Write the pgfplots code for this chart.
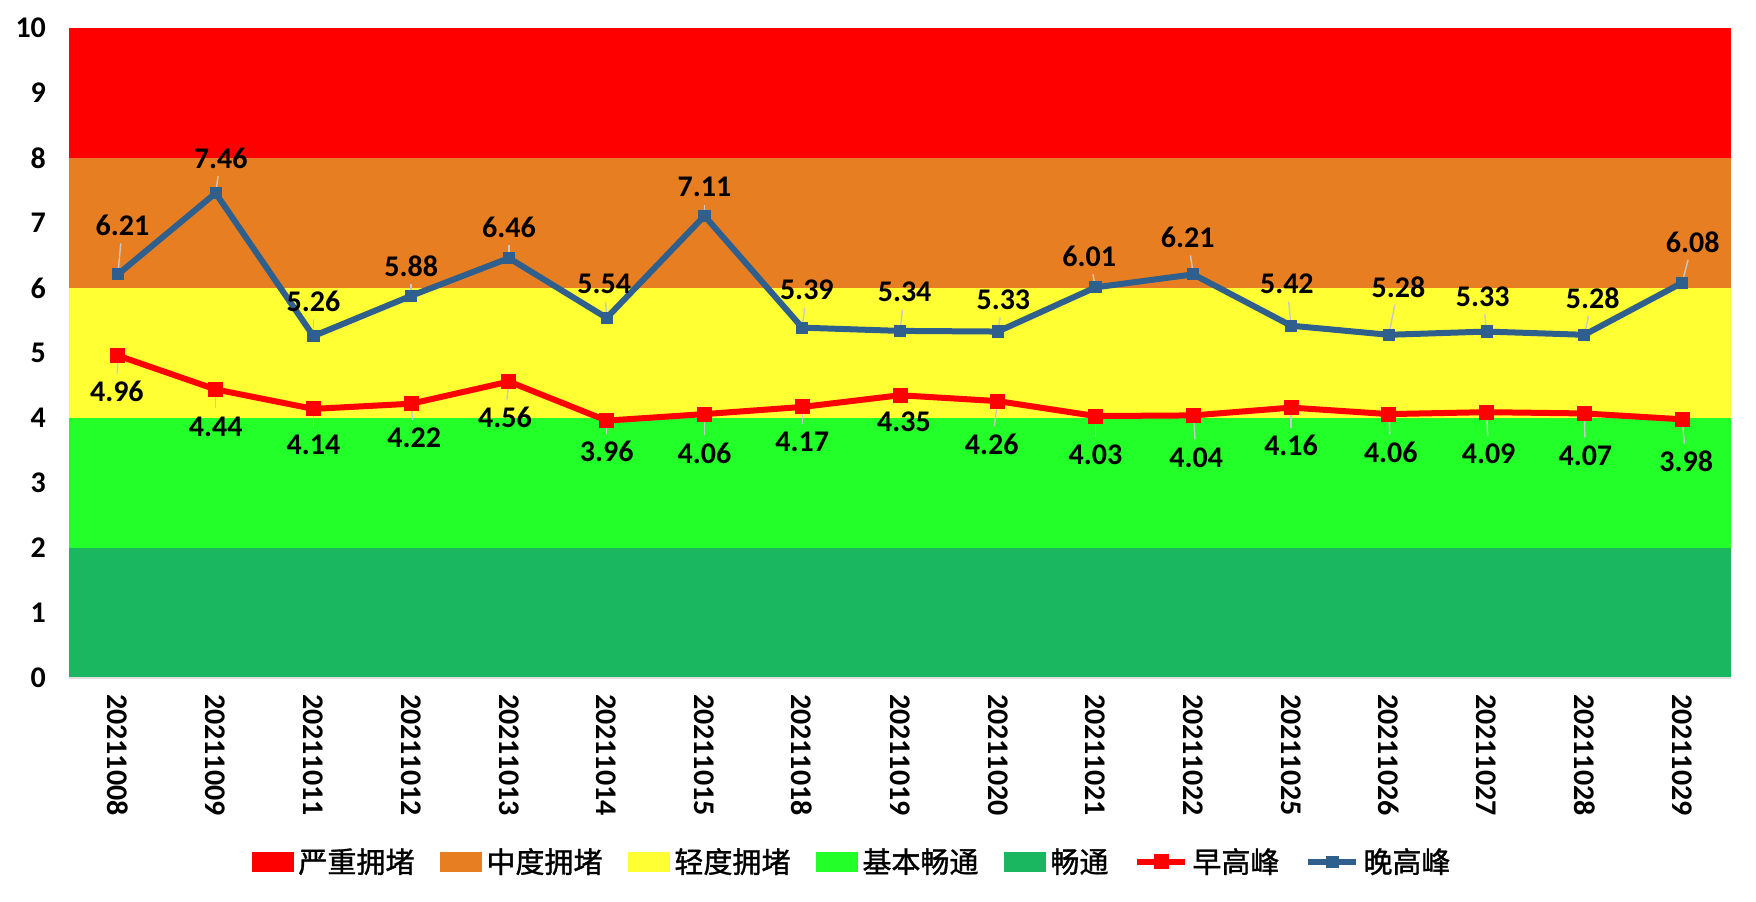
\documentclass[border=0pt]{standalone}
\usepackage{pgfplots}
\pgfplotsset{compat=1.18}
\usepackage{pgfplotstable}
\usepackage{fontspec}
\setmainfont{Carlito}
\newfontfamily\cjk{Noto Sans CJK SC}[FakeBold=1.2]
\definecolor{cSevere}{RGB}{255,0,0}
\definecolor{cModerate}{RGB}{232,126,34}
\definecolor{cLight}{RGB}{255,255,51}
\definecolor{cBasic}{RGB}{35,255,40}
\definecolor{cSmooth}{RGB}{27,183,96}
\definecolor{cBlue}{RGB}{47,95,140}
\definecolor{cRed}{RGB}{255,0,0}
\definecolor{cLeader}{RGB}{200,200,200}

\pgfplotsset{
  bandlegend/.style={area legend, legend image code/.code={\fill[##1] (0pt,-5pt) rectangle (21pt,5pt);}},
  linelegend/.style={legend image code/.code={\draw[##1, mark repeat=2, mark phase=2] plot coordinates {(0pt,0pt)(12pt,0pt)(24pt,0pt)};}},
}

\pgfplotstableread{
x y dx dy lab
0 6.21 2.3 24.5 6.21
1 7.46 2.5 17.5 7.46
2 5.26 0 17.5 5.26
3 5.88 0 15 5.88
4 6.46 0 15.5 6.46
5 5.54 -1.2 17 5.54
6 7.11 0 14.5 7.11
7 5.39 2.3 19 5.39
8 5.34 2.3 19.5 5.34
9 5.33 2.8 16 5.33
10 6.01 -3.2 15.5 6.01
11 6.21 -2.8 18.5 6.21
12 5.42 -2.1 21 5.42
13 5.28 4.8 24 5.28
14 5.33 -1.9 17.5 5.33
15 5.28 4.2 18.5 5.28
16 6.08 5.3 20.5 6.08
}\evening

\pgfplotstableread{
x y dx dy lab
0 4.96 -0.5 -18 4.96
1 4.44 0 -18.5 4.44
2 4.14 0 -18 4.14
3 4.22 1.5 -17 4.22
4 4.56 -2 -18 4.56
5 3.96 0 -15.5 3.96
6 4.06 0 -19.5 4.06
7 4.17 0 -17.5 4.17
8 4.35 2 -13.5 4.35
9 4.26 -3 -21.5 4.26
10 4.03 0 -19.5 4.03
11 4.04 1.5 -21 4.04
12 4.16 0 -19 4.16
13 4.06 1 -19 4.06
14 4.09 1 -21 4.09
15 4.07 0.5 -21 4.07
16 3.98 2 -21 3.98
}\morning

\newcommand{\numfont}{\bfseries\fontsize{15}{17}\selectfont}

\begin{document}
\begin{tikzpicture}
\begin{axis}[
  scale only axis,
  width=831pt, height=325pt,
  xmin=-0.5, xmax=16.5, ymin=0, ymax=10,
  clip=false,
  axis line style={draw=none},
  tick style={draw=none},
  xtick={0,...,16},
  xticklabels={20211008,20211009,20211011,20211012,20211013,20211014,20211015,20211018,20211019,20211020,20211021,20211022,20211025,20211026,20211027,20211028,20211029},
  xticklabel style={rotate=-90, anchor=west, font=\numfont},
  xticklabel shift=4.5pt,
  ytick={0,...,10},
  yticklabel style={font=\numfont},
  yticklabel shift=8pt,
  /pgf/number format/assume math mode=true,
  legend columns=7,
  legend style={at={(0.472,-0.283)}, anchor=center, draw=none, fill=none,
    font=\cjk\fontsize{14.5}{16}\selectfont,
    /tikz/every even column/.append style={column sep=11pt},
    /tikz/every odd column/.append style={column sep=0pt}},
  legend cell align=left,
]
% bands
\addplot[fill=cSevere, draw=none, bandlegend]
  coordinates {(-0.5,8) (16.5,8) (16.5,10) (-0.5,10)} -- cycle;
\addlegendentry{严重拥堵}
\addplot[fill=cModerate, draw=none, bandlegend]
  coordinates {(-0.5,6) (16.5,6) (16.5,8) (-0.5,8)} -- cycle;
\addlegendentry{中度拥堵}
\addplot[fill=cLight, draw=none, bandlegend]
  coordinates {(-0.5,4) (16.5,4) (16.5,6) (-0.5,6)} -- cycle;
\addlegendentry{轻度拥堵}
\addplot[fill=cBasic, draw=none, bandlegend]
  coordinates {(-0.5,2) (16.5,2) (16.5,4) (-0.5,4)} -- cycle;
\addlegendentry{基本畅通}
\addplot[fill=cSmooth, draw=none, bandlegend]
  coordinates {(-0.5,0) (16.5,0) (16.5,2) (-0.5,2)} -- cycle;
\addlegendentry{畅通}
% baseline
\addplot[forget plot, draw=gray!25, line width=1pt] coordinates {(-0.5,0) (16.5,0)};
% morning
\addplot[cRed, line width=3pt, mark=square*, mark size=3.5pt,
  mark options={fill=cRed, draw=cRed, line width=0pt},
  linelegend,
  nodes near coords, point meta=explicit symbolic,
  visualization depends on={\thisrow{dx} \as \dx},
  visualization depends on={\thisrow{dy} \as \dy},
  every node near coord/.style={anchor=center, text=black, font=\numfont, xshift=\dx pt, yshift=\dy pt},
] table[x=x, y=y, meta=lab] {\morning};
\addlegendentry{早高峰}
% evening
\addplot[cBlue, line width=3pt, mark=square*, mark size=2.8pt,
  mark options={fill=cBlue, draw=cBlue, line width=0pt},
  linelegend,
  nodes near coords, point meta=explicit symbolic,
  visualization depends on={\thisrow{dx} \as \dx},
  visualization depends on={\thisrow{dy} \as \dy},
  every node near coord/.style={anchor=center, text=black, font=\numfont, xshift=\dx pt, yshift=\dy pt},
] table[x=x, y=y, meta=lab] {\evening};
\addlegendentry{晚高峰}
% leader lines
\addplot[forget plot, cLeader, line width=0.7pt, quiver={u=\thisrow{dx}*(\thisrow{dy}-9)/\thisrow{dy}/48.9, v=(\thisrow{dy}-9)/32.5}]
  table[x=x, y=y] {\evening};
\addplot[forget plot, cLeader, line width=0.7pt, quiver={u=\thisrow{dx}*(\thisrow{dy}+9)/\thisrow{dy}/48.9, v=(\thisrow{dy}+9)/32.5}]
  table[x=x, y=y] {\morning};
\end{axis}
\pgfresetboundingbox
\useasboundingbox (-34.5pt,-111.5pt) rectangle (843.5pt,339pt);
\end{tikzpicture}
\end{document}
